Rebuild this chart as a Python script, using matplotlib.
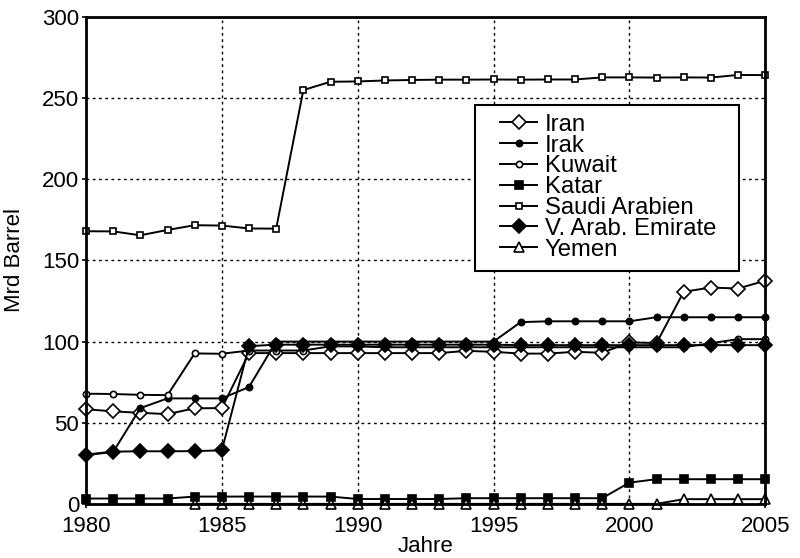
import numpy as np
import matplotlib
matplotlib.use("Agg")
import matplotlib.pyplot as plt
from matplotlib.patches import Rectangle

plt.rcParams["font.family"] = ["Liberation Sans", "DejaVu Sans"]

years = list(range(1980, 2006))

# Reserves in Mrd Barrel
iran = [58.3, 57.0, 56.1, 55.3, 58.9, 59.0, 92.9, 92.9, 92.9, 92.9, 92.9, 92.9, 92.9,
        92.9, 94.3, 93.7, 92.6, 92.6, 93.7, 93.1, 99.5, 99.1, 130.7, 133.3, 132.7, 137.5]
irak = [30.0, 32.0, 59.0, 65.0, 65.0, 65.0, 72.0, 100.0, 100.0, 100.0, 100.0, 100.0, 100.0,
        100.0, 100.0, 100.0, 112.0, 112.5, 112.5, 112.5, 112.5, 115.0, 115.0, 115.0, 115.0, 115.0]
kuwait = [67.9, 67.7, 67.2, 67.0, 92.7, 92.5, 94.5, 94.5, 94.5, 97.1, 97.0, 96.5, 96.5,
          96.5, 96.5, 96.5, 96.5, 96.5, 96.5, 96.5, 96.5, 96.5, 96.5, 99.0, 101.5, 101.5]
katar = [3.3, 3.3, 3.3, 3.3, 4.5, 4.5, 4.5, 4.5, 4.5, 4.5, 3.0, 3.0, 3.0,
         3.0, 3.5, 3.5, 3.5, 3.5, 3.5, 3.5, 13.1, 15.2, 15.2, 15.2, 15.2, 15.2]
saudi = [168.0, 167.9, 165.5, 168.8, 171.7, 171.5, 169.7, 169.6, 255.0, 260.1, 260.3, 260.9, 261.2,
         261.4, 261.4, 261.5, 261.4, 261.5, 261.5, 262.8, 262.8, 262.7, 262.8, 262.7, 264.3, 264.2]
vae = [30.4, 32.2, 32.4, 32.4, 32.5, 33.0, 97.2, 98.1, 98.1, 98.1, 98.1, 98.1, 98.1,
       98.1, 98.1, 98.1, 97.8, 97.8, 97.8, 97.8, 97.8, 97.8, 97.8, 97.8, 97.8, 97.8]
yemen = [np.nan, np.nan, np.nan, np.nan, 0.0, 0.0, 0.0, 0.0, 0.0, 0.0, 0.0, 0.0, 0.0,
         0.0, 0.0, 0.0, 0.0, 0.0, 0.0, 0.0, 0.0, 0.0, 2.9, 2.9, 2.9, 2.9]

series = [
    ("Iran", iran, dict(marker="D", ms=7, mfc="white")),
    ("Irak", irak, dict(marker="o", ms=4.5, mfc="black")),
    ("Kuwait", kuwait, dict(marker="o", ms=4.5, mfc="white")),
    ("Katar", katar, dict(marker="s", ms=5.5, mfc="black")),
    ("Saudi Arabien", saudi, dict(marker="s", ms=5, mfc="white")),
    ("V. Arab. Emirate", vae, dict(marker="D", ms=7, mfc="black")),
    ("Yemen", yemen, dict(marker="^", ms=7, mfc="white")),
]

fig = plt.figure(figsize=(8, 5.58), dpi=100)
ax = fig.add_axes([0.1075, 0.097, 0.849, 0.8725])

for name, vals, style in series:
    ax.plot(years, vals, color="black", lw=1.4, mec="black", mew=1.2,
            label=name, clip_on=False, **style)

ax.set_xlim(1980, 2005)
ax.set_ylim(0, 300)
ax.set_xticks(range(1980, 2006, 5))
ax.set_yticks(range(0, 301, 50))
ax.grid(True, color="black", linestyle=(0, (2, 2.5)), linewidth=1.0)
ax.tick_params(direction="out", length=3, width=1.2, labelsize=16)
ax.tick_params(axis="x", pad=6)
ax.tick_params(axis="y", pad=2)
for sp in ax.spines.values():
    sp.set_linewidth(2)

ax.set_xlabel("Jahre", fontsize=16, labelpad=-1)
ax.set_ylabel("Mrd Barrel", fontsize=16, labelpad=12)

# legend box drawn separately so its margins can follow the reference
box = Rectangle((0.594, 0.5143), 0.33, 0.2975, transform=fig.transFigure,
                facecolor="white", edgecolor="black", lw=1.5, zorder=4)
fig.patches.append(box)

leg = fig.legend(loc="upper left", bbox_to_anchor=(0.625, 0.796), fontsize=17.2,
                 frameon=False, handlelength=1.55, handletextpad=0.33,
                 labelspacing=-0.05, borderpad=0, borderaxespad=0)
leg.set_zorder(5)

fig.savefig("out.png", dpi=100)
